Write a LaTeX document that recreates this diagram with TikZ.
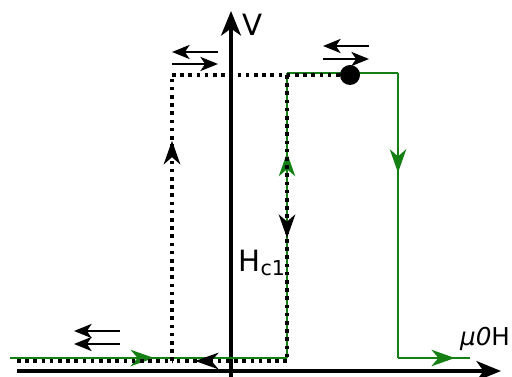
\documentclass[tikz,border=0pt]{standalone}
\usepackage{fontspec}
\setmainfont{DejaVu Sans}
\usepackage{tikz}
\usepackage{xcolor}
\usetikzlibrary{arrows.meta, decorations.markings}
\definecolor{loopgreen}{RGB}{20, 128, 20}
\tikzset{
    axis/.style={line width=2.8pt, -{Stealth[length=21pt, width=17pt, inset=6pt]}},
    greenline/.style={draw=loopgreen, line width=2pt},
    dotline/.style={draw=black, line width=3pt, dash pattern=on 3pt off 4pt},
    gmark/.style={postaction={decorate, decoration={markings,
        mark=at position #1 with {\arrow[loopgreen]{Stealth[length=20pt, width=14pt, inset=6pt]}}}}},
    bmark/.style={postaction={decorate, decoration={markings,
        mark=at position #1 with {\arrow[black]{Stealth[length=20pt, width=14pt, inset=6pt]}}}}},
    spin/.style={line width=2.2pt, -{Stealth[length=15pt, width=12pt, inset=4pt]}},
    biglabel/.style={font=\fontsize{25}{30}\selectfont, inner sep=0pt}
}

\begin{document}
\begin{tikzpicture}[x=0.03cm, y=-0.03cm]
    \useasboundingbox (0,0) rectangle (512,377);

    % axes
    \coordinate (xs) at (17,371);
    \coordinate (xe) at (501,371);
    \coordinate (ys) at (231,378);
    \coordinate (ye) at (231,11);
    \draw[axis] (xs) -- (xe);
    \draw[axis] (ys) -- (ye);
    \node[biglabel] (vlab) at (253,25) {V};
    \node[inner sep=0pt, font=\fontsize{21}{25}\selectfont] (hlab) at (485,339) {\textit{μ0}H};

    % green loop
    \coordinate (g0) at (10,358);
    \coordinate (g1) at (287,358);
    \coordinate (g2) at (287,73);
    \coordinate (g3) at (398,73);
    \coordinate (g4) at (398,358);
    \coordinate (g5) at (470,358);
    \draw[greenline, gmark=0.52] (g0) -- (g1);
    \draw[greenline, gmark=0.72] (g1) -- (g2);
    \draw[greenline] (g2) -- (g3);
    \draw[greenline, gmark=0.35] (g3) -- (g4);
    \draw[greenline, gmark=0.79] (g4) -- (g5);

    % dotted loop
    \coordinate (d0) at (17,361);
    \coordinate (d1) at (172,361);
    \coordinate (d2) at (287,361);
    \coordinate (d3) at (172,75);
    \coordinate (d4) at (287,75);
    \coordinate (dot) at (350,75);
    \draw[dotline] (d0) -- (d1);
    \draw[dotline, bmark=0.8] (d2) -- (d1);
    \draw[dotline, bmark=0.77] (d1) -- (d3);
    \draw[dotline] (d3) -- (dot);
    \draw[dotline, bmark=0.57] (d4) -- (d2);
    \fill (dot) circle (10);

    \node[biglabel] (hc) at (262,263) {H\textsubscript{c1}};

    % magnetisation arrows
    \draw[spin] (218,52) -- (172,52);
    \draw[spin] (172,64) -- (218,64);
    \draw[spin] (369,46) -- (323,46);
    \draw[spin] (323,59) -- (369,59);
    \draw[spin] (120,331) -- (74,331);
    \draw[spin] (120,344) -- (74,344);
\end{tikzpicture}
\end{document}
